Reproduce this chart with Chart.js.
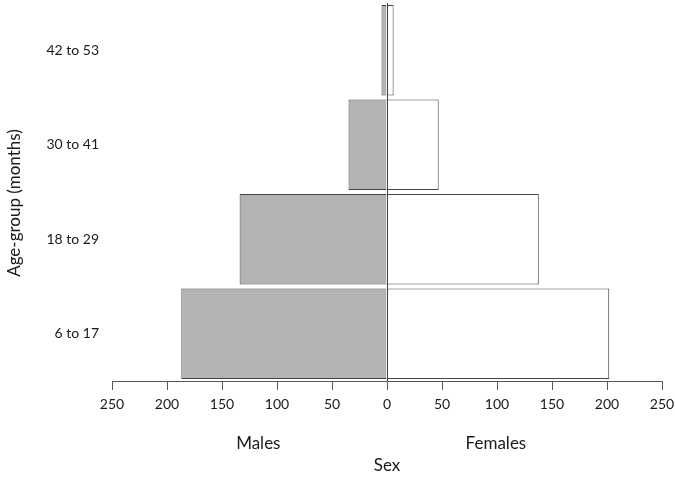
<!DOCTYPE html>
<html>
<head>
<meta charset="utf-8">
<script src="https://cdn.jsdelivr.net/npm/chart.js@4"></script>
<style>
html,body{margin:0;padding:0;background:#fff;overflow:hidden;}
#wrap{width:675px;height:477px;}
</style>
</head>
<body>
<div id="wrap"><canvas id="c"></canvas></div>
<script>
const categories = ['42 to 53', '30 to 41', '18 to 29', '6 to 17'];
const males = [5, 35, 134, 187];
const females = [6, 47, 138, 202];
const xTicksMin = -250, xTicksMax = 250, xStep = 50;
const groupLabels = ['Males', 'Females'];
const xTitle = 'Sex';
const yTitle = 'Age-group (months)';

const FONT = 'Lato, "Open Sans", sans-serif';
const TXT = '#1a1a1a';

const annotate = {
  id: 'annotate',
  afterDatasetsDraw(chart) {
    const {ctx, chartArea, scales} = chart;
    const x0 = Math.round(scales.x.getPixelForValue(0)) + 0.5;
    ctx.save();
    ctx.strokeStyle = '#444';
    ctx.lineWidth = 1;
    ctx.beginPath();
    ctx.moveTo(x0, chartArea.top);
    ctx.lineTo(x0, chartArea.bottom);
    ctx.stroke();
    ctx.restore();
  },
  afterDraw(chart) {
    const {ctx, scales} = chart;
    ctx.save();
    ctx.fillStyle = TXT;
    ctx.textAlign = 'center';
    ctx.textBaseline = 'middle';
    ctx.font = '17px ' + FONT;
    ctx.fillText(groupLabels[0], scales.x.getPixelForValue(-117), 444);
    ctx.fillText(groupLabels[1], scales.x.getPixelForValue(99), 444);
    ctx.fillText(xTitle, scales.x.getPixelForValue(0), 466);
    ctx.translate(15, 203);
    ctx.rotate(-Math.PI / 2);
    ctx.fillText(yTitle, 0, 0);
    ctx.restore();
  }
};

new Chart(document.getElementById('c'), {
  type: 'bar',
  data: {
    labels: categories,
    datasets: [
      {
        label: groupLabels[0],
        data: males.map(v => -v),
        backgroundColor: '#b3b3b3',
        borderColor: '#444',
        borderWidth: 1,
        borderSkipped: 'start',
        barPercentage: 0.96,
        categoryPercentage: 1
      },
      {
        label: groupLabels[1],
        data: females,
        backgroundColor: '#ffffff',
        borderColor: '#444',
        borderWidth: 1,
        borderSkipped: 'start',
        barPercentage: 0.96,
        categoryPercentage: 1
      }
    ]
  },
  options: {
    indexAxis: 'y',
    responsive: true,
    maintainAspectRatio: false,
    animation: false,
    layout: {padding: {top: 3, right: 13, left: 0, bottom: 0}},
    plugins: {legend: {display: false}, tooltip: {enabled: false}},
    scales: {
      x: {
        stacked: true,
        min: xTicksMin,
        max: xTicksMax,
        ticks: {
          stepSize: xStep,
          callback: v => Math.abs(v),
          color: TXT,
          font: {family: FONT, size: 14},
          padding: 6,
          maxRotation: 0
        },
        grid: {display: true, drawOnChartArea: false, drawTicks: true, tickLength: 9, color: '#555'},
        border: {display: true, color: '#555'},
        afterFit(s) { s.height = 96; s.paddingLeft = 0; s.paddingRight = 0; }
      },
      y: {
        stacked: true,
        ticks: {color: TXT, font: {family: FONT, size: 14}, padding: 5},
        grid: {display: false},
        border: {display: false},
        afterFit(s) { s.width = 112; s.paddingTop = 0; s.paddingBottom = 0; }
      }
    }
  },
  plugins: [annotate]
});
</script>
</body>
</html>
